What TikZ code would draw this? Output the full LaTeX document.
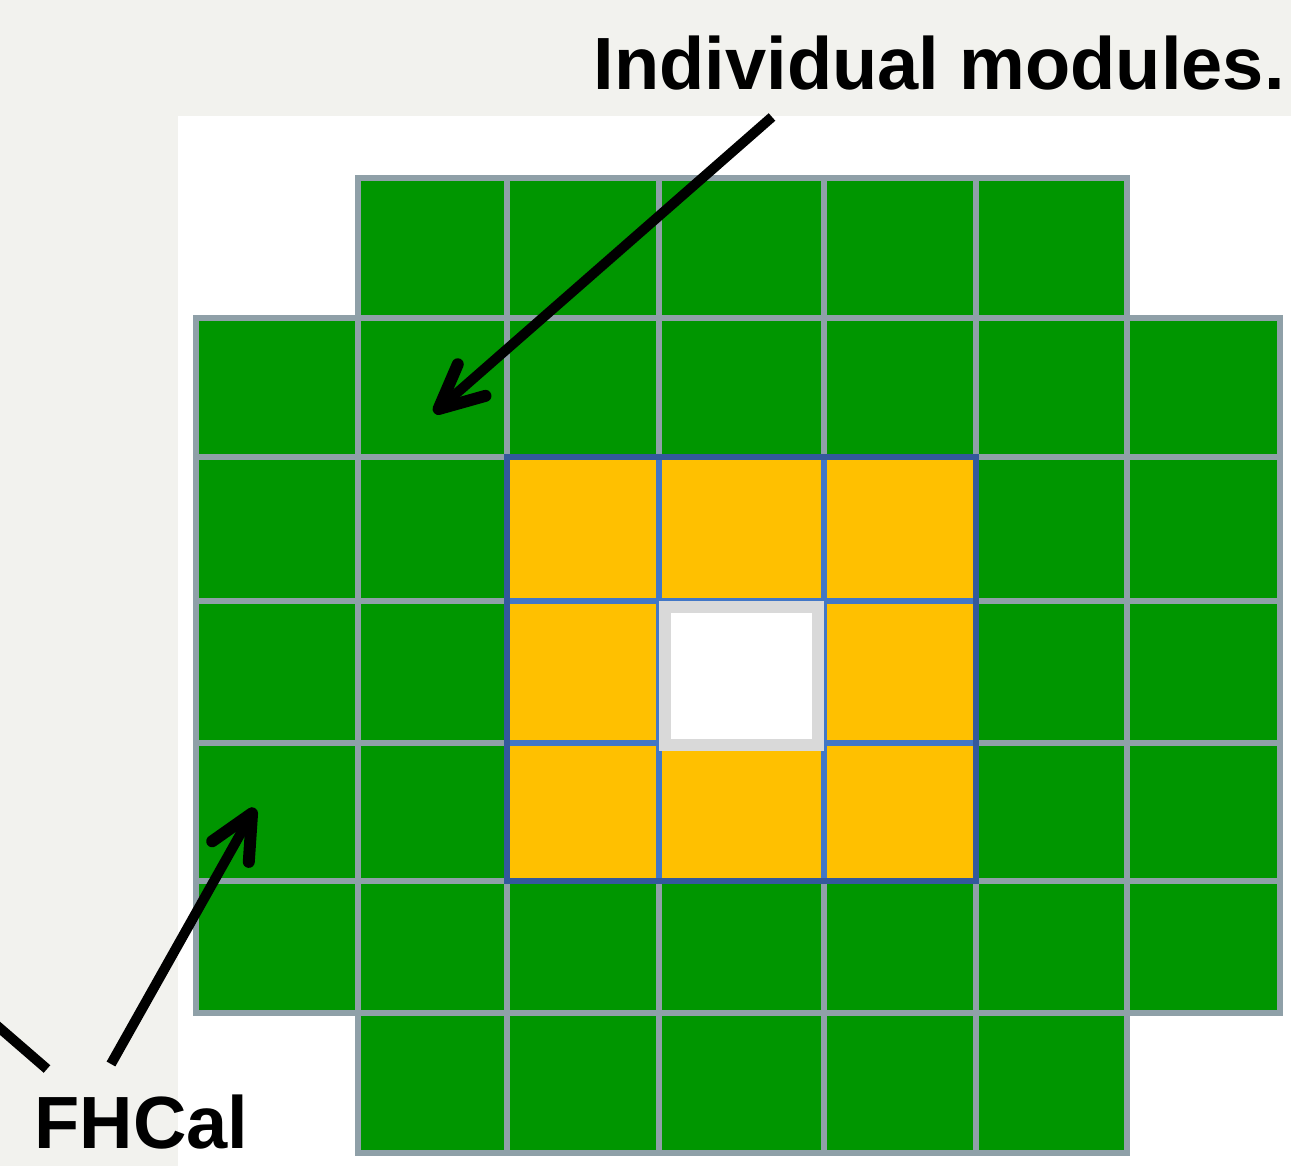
\documentclass[tikz,border=0pt]{standalone}
\usepackage{fontspec}
\setmainfont{Liberation Sans}
\usetikzlibrary{arrows.meta}
\definecolor{bggray}{HTML}{F2F2EE}
\definecolor{cellgreen}{HTML}{009600}
\definecolor{gridgray}{HTML}{8FA0A8}
\definecolor{cellyellow}{HTML}{FFC000}
\definecolor{innerblue}{HTML}{4277C6}
\definecolor{outerblue}{HTML}{33599C}
\definecolor{holegray}{HTML}{D9D9D9}
\begin{document}
\begin{tikzpicture}[x=0.5pt,y=-0.5pt,
  greencell/.style={fill=cellgreen,draw=gridgray,line width=3pt},
  yellowcell/.style={fill=cellyellow,draw=innerblue,line width=3pt},
  yellowframe/.style={draw=outerblue,line width=3pt},
  hole/.style={fill=white,draw=holegray,line width=6pt},
  label/.style={font=\bfseries\fontsize{37}{37}\selectfont,inner sep=0pt,text=black},
  arr/.style={line width=5pt,-{Straight Barb[length=22pt,width=21pt,round,line width=6pt]}},
  plainline/.style={line width=5pt}]
\useasboundingbox (0,0) rectangle (1291,1166);
\fill[bggray] (0,0) rectangle (1291,1166);
\fill[white] (178,116) rectangle (1291,1166);
% grid line positions
\foreach \i/\v in {0/196,1/358,2/507,3/659,4/824,5/976,6/1127,7/1280}
  \coordinate (X\i) at (\v,0);
\foreach \i/\v in {0/178,1/318,2/457,3/601,4/743,5/881,6/1013,7/1153}
  \coordinate (Y\i) at (0,\v);
% green modules
\foreach \c in {1,...,5}{
  \pgfmathtruncatemacro\cn{\c+1}
  \path[greencell] (X\c |- Y0) rectangle (X\cn |- Y1);
  \path[greencell] (X\c |- Y6) rectangle (X\cn |- Y7);
}
\foreach \r in {1,...,5}{
  \foreach \c in {0,...,6}{
    \pgfmathtruncatemacro\cn{\c+1}
    \pgfmathtruncatemacro\rn{\r+1}
    \path[greencell] (X\c |- Y\r) rectangle (X\cn |- Y\rn);
  }
}
% yellow modules
\foreach \r in {2,3,4}{
  \foreach \c in {2,3,4}{
    \pgfmathtruncatemacro\cn{\c+1}
    \pgfmathtruncatemacro\rn{\r+1}
    \path[yellowcell] (X\c |- Y\r) rectangle (X\cn |- Y\rn);
  }
}
\path[yellowframe] (X2 |- Y2) rectangle (X5 |- Y5);
% central hole
\path[hole] (665,607) rectangle (818,745);
% labels
\node[label,anchor=base east] (title) at (1285,90) {Individual modules.};
\node[label,anchor=base west] (fhcal) at (34,1148) {FHCal};
% arrows
\coordinate (a1s) at (772,117);
\coordinate (a1e) at (434,413);
\coordinate (a2s) at (111,1064);
\coordinate (a2e) at (255,808);
\coordinate (l3s) at (-20,1011);
\coordinate (l3e) at (47,1069);
\draw[arr] (a1s) -- (a1e);
\draw[arr] (a2s) -- (a2e);
\draw[plainline] (l3s) -- (l3e);
\end{tikzpicture}
\end{document}
